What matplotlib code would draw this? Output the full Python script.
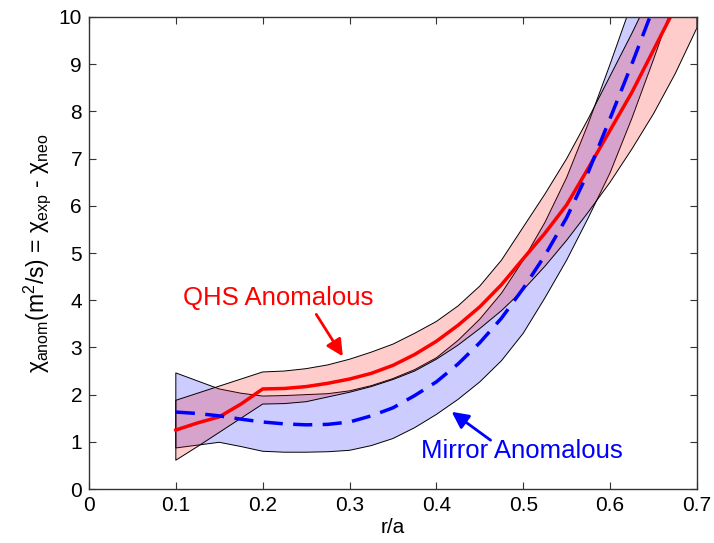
import matplotlib
matplotlib.use("Agg")
import matplotlib.pyplot as plt
from matplotlib import font_manager

# r/a grid and curves
r = [0.1, 0.125, 0.15, 0.175, 0.2, 0.225, 0.25, 0.275, 0.3, 0.325, 0.35, 0.375,
     0.4, 0.425, 0.45, 0.475, 0.5, 0.525, 0.55, 0.575, 0.6, 0.625, 0.65, 0.675, 0.7]

qhs_mean = [1.25, 1.4, 1.53, 1.8, 2.12, 2.13, 2.17, 2.24, 2.33, 2.45, 2.62, 2.85,
            3.13, 3.47, 3.86, 4.33, 4.88, 5.42, 6.02, 6.8, 7.6, 8.4, 9.3, 10.2, 11.2]
qhs_upper = [1.88, 2.03, 2.18, 2.33, 2.48, 2.5, 2.55, 2.63, 2.75, 2.9, 3.07, 3.3,
             3.55, 3.88, 4.3, 4.85, 5.55, 6.25, 7.0, 7.85, 8.75, 9.65, 10.6, 11.6, 12.6]
qhs_lower = [0.61, 0.9, 1.2, 1.5, 1.8, 1.81, 1.85, 1.95, 2.05, 2.17, 2.32, 2.5,
             2.75, 3.05, 3.4, 3.78, 4.22, 4.72, 5.27, 5.87, 6.5, 7.2, 7.95, 8.8, 9.77]

mir_mean = [1.63, 1.6, 1.55, 1.48, 1.42, 1.38, 1.36, 1.37, 1.42, 1.55, 1.72, 1.98,
            2.27, 2.65, 3.1, 3.62, 4.25, 4.95, 5.75, 6.72, 7.85, 9.0, 10.2, 11.4, 12.6]
mir_upper = [2.46, 2.29, 2.12, 2.03, 1.97, 1.98, 2.0, 2.02, 2.08, 2.19, 2.34, 2.53,
             2.78, 3.15, 3.6, 4.15, 4.85, 5.65, 6.6, 7.75, 9.0, 10.3, 11.6, 12.9, 14.2]
mir_lower = [0.87, 0.93, 0.99, 0.9, 0.8, 0.78, 0.78, 0.79, 0.82, 0.92, 1.07, 1.3,
             1.58, 1.9, 2.27, 2.72, 3.3, 4.05, 4.85, 5.75, 6.7, 7.85, 9.1, 10.4, 11.7]

xticks = [0, 0.1, 0.2, 0.3, 0.4, 0.5, 0.6, 0.7]
xticklabels = ["0", "0.1", "0.2", "0.3", "0.4", "0.5", "0.6", "0.7"]
yticks = list(range(0, 11))

names = {f.name for f in font_manager.fontManager.ttflist}
narrow = "Liberation Sans Narrow" if "Liberation Sans Narrow" in names else "Liberation Sans"

plt.rcParams["font.family"] = [narrow, "DejaVu Sans"]
plt.rcParams["mathtext.fontset"] = "custom"
plt.rcParams["mathtext.rm"] = narrow
plt.rcParams["mathtext.it"] = narrow
plt.rcParams["mathtext.sf"] = narrow

fig = plt.figure(figsize=(7.14, 5.43), dpi=100)
ax = fig.add_axes([0.1246, 0.0994, 0.8515, 0.8693])

ax.fill_between(r, mir_lower, mir_upper, facecolor=(0, 0, 1, 0.2),
                edgecolor="k", linewidth=0.7)
ax.fill_between(r, qhs_lower, qhs_upper, facecolor=(1, 0, 0, 0.2),
                edgecolor="k", linewidth=0.7)
ax.plot(r, qhs_mean, color="red", linewidth=2.5)
ax.plot(r, mir_mean, color="blue", linewidth=2.5, linestyle=(0, (5.5, 3)))

ax.set_xlim(0, 0.7)
ax.set_ylim(0, 10)
ax.set_xticks(xticks)
ax.set_xticklabels(xticklabels)
ax.set_yticks(yticks)
ax.tick_params(direction="in", top=True, right=True, length=5, width=0.8,
               labelsize=15, pad=5, colors="#333333", labelcolor="black")
for s in ax.spines.values():
    s.set_linewidth(1.0)
    s.set_color("#333333")

ax.set_xlabel("r/a", fontsize=15, labelpad=2)
ax.set_ylabel(r"$\chi_{\rm anom}$(m$^{2}$/s) = $\chi_{\rm exp}$ - $\chi_{\rm neo}$",
              fontsize=16.5, labelpad=4)

ax.text(0.2175, 4.05, "QHS Anomalous", color="red", fontsize=18.5,
        family="Liberation Sans", ha="center", va="center")
ax.annotate("", xy=(0.294, 2.76), xytext=(0.26, 3.75),
            arrowprops=dict(arrowstyle="-|>", color="red", lw=2, mutation_scale=25))
ax.text(0.498, 0.8, "Mirror Anomalous", color="blue", fontsize=18.5,
        family="Liberation Sans", ha="center", va="center")
ax.annotate("", xy=(0.415, 1.67), xytext=(0.465, 1.0),
            arrowprops=dict(arrowstyle="-|>", color="blue", lw=2, mutation_scale=25))

fig.savefig("out.png", dpi=100)
